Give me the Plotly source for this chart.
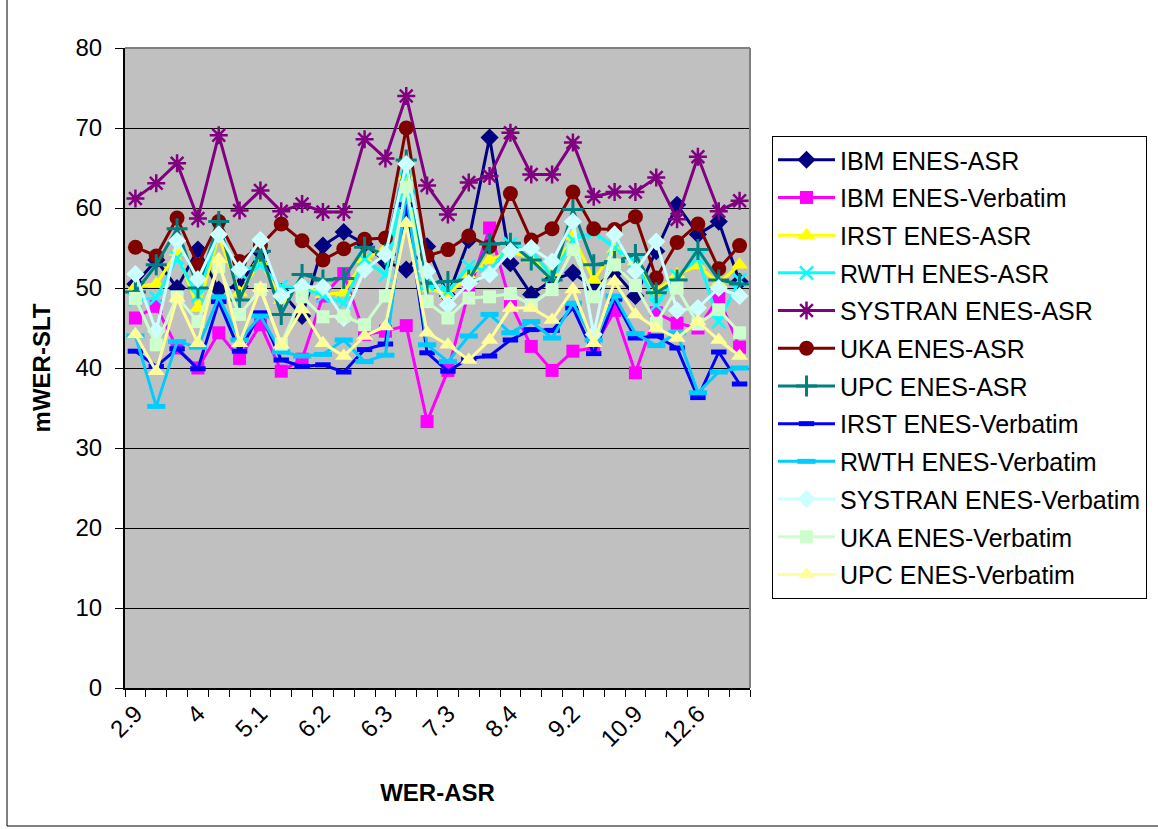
import plotly.graph_objects as go

tick_labels = ["2.9", "4", "5.1", "6.2", "6.3", "7.3", "8.4", "9.2", "10.9", "12.6"]
n_points = 30

ibm_asr = [50.5,53.5,50.0,54.8,49.8,50.2,54.5,49.5,46.5,55.3,57.0,55.5,53.3,52.3,55.2,49.0,56.0,68.8,53.1,49.2,51.0,51.9,50.0,52.0,49.0,54.6,60.4,56.7,58.3,50.8]
ibm_verb = [46.25,47.7,42.5,40.0,44.4,41.2,45.4,39.6,41.1,49.0,51.8,44.2,44.6,45.3,33.3,39.7,49.5,57.5,48.1,42.7,39.7,42.1,42.5,47.2,39.4,46.9,45.6,45.0,48.75,42.6]
irst_asr = [50.2,50.5,54.5,47.5,56.5,49.4,53.3,48.5,50.5,49.2,49.4,53.6,54.9,64.0,50.0,49.2,51.5,53.5,54.6,53.7,51.9,56.5,51.0,54.8,53.3,49.6,51.7,52.8,50.6,52.9]
rwth_asr = [48.5,48.75,53.75,49.0,57.0,52.0,52.9,50.2,50.0,49.0,48.1,53.6,51.6,65.0,50.5,49.6,52.7,52.1,55.5,54.6,51.5,56.0,57.0,55.0,53.3,47.9,51.5,53.75,45.8,51.0]
systran_asr = [61.2,63.1,65.6,58.7,69.1,59.7,62.2,59.6,60.5,59.5,59.5,68.6,66.2,74.0,62.8,59.2,63.2,64.0,69.4,64.2,64.2,68.2,61.4,62.0,62.0,63.8,58.6,66.4,59.6,60.9]
uka_asr = [55.1,54.0,58.75,52.9,58.3,53.3,55.3,58.0,55.9,53.5,54.9,56.1,56.25,70.0,54.0,54.8,56.5,55.2,61.8,56.0,57.4,62.0,57.4,57.3,58.9,51.25,55.7,58.0,52.4,55.3]
upc_asr = [49.5,52.9,57.4,50.0,58.3,48.5,54.6,46.7,51.7,51.0,51.2,55.1,54.2,66.0,50.6,50.8,51.0,55.5,55.6,53.5,51.0,59.8,52.9,53.3,54.2,49.4,51.0,54.8,51.0,50.5]
irst_verb = [42.1,40.2,42.4,39.9,48.3,42.1,46.9,41.0,40.2,40.4,39.5,42.3,43.0,60.4,41.9,39.6,41.2,41.5,43.5,44.8,44.7,47.5,41.8,48.6,43.75,44.0,42.5,36.3,42.0,38.0]
rwth_verb = [44.0,35.2,43.3,42.6,48.9,43.5,46.5,42.0,41.5,41.7,43.5,40.8,41.6,62.0,42.9,40.8,44.0,46.7,44.4,45.8,43.75,48.1,43.5,49.0,44.3,42.8,44.4,36.9,39.5,40.0]
systran_verb = [51.75,44.6,55.9,51.1,56.7,52.3,56.0,49.0,50.2,50.1,46.25,52.3,54.2,65.5,52.1,47.9,50.6,51.7,54.6,55.0,53.3,58.3,44.2,56.7,52.1,55.8,47.2,47.5,50.0,49.0]
uka_verb = [48.7,42.9,48.9,45.8,52.7,46.7,49.8,43.0,48.9,46.4,46.5,45.4,49.0,62.6,48.3,46.25,48.75,48.9,49.3,47.9,49.8,54.8,48.9,52.9,50.3,45.6,50.0,45.5,47.3,44.4]
upc_verb = [44.2,39.6,48.75,43.1,53.6,43.1,50.0,42.9,47.3,43.1,41.5,44.0,45.2,58.1,44.4,42.9,41.0,43.5,47.5,47.5,46.0,49.8,43.1,50.8,46.7,45.0,43.75,45.8,43.5,41.5]

x = list(range(n_points))
tickvals = list(range(0, n_points, 3))

series = [
    ("IBM ENES-ASR", ibm_asr, "#000080", "diamond", 14, 0),
    ("IBM ENES-Verbatim", ibm_verb, "#FF00FF", "square", 13, 0),
    ("IRST ENES-ASR", irst_asr, "#FFFF00", "triangle-up", 15, 0),
    ("RWTH ENES-ASR", rwth_asr, "#00FFFF", "x-thin", 13, 2.5),
    ("SYSTRAN ENES-ASR", systran_asr, "#800080", "asterisk", 15, 2.5),
    ("UKA ENES-ASR", uka_asr, "#800000", "circle", 15, 0),
    ("UPC ENES-ASR", upc_asr, "#008080", "cross-thin", 15, 3),
    ("IRST ENES-Verbatim", irst_verb, "#0000FF", "line-ew", 11, 5),
    ("RWTH ENES-Verbatim", rwth_verb, "#00CCFF", "line-ew", 13, 5),
    ("SYSTRAN ENES-Verbatim", systran_verb, "#CCFFFF", "diamond", 14, 0),
    ("UKA ENES-Verbatim", uka_verb, "#CCFFCC", "square", 13, 0),
    ("UPC ENES-Verbatim", upc_verb, "#FFFF99", "triangle-up", 15, 0),
]

fig = go.Figure()
for i, (name, vals, color, sym, size, lw) in enumerate(series):
    marker = dict(symbol=sym, size=size, color=color)
    if lw:
        marker["line"] = dict(color=color, width=lw)
    else:
        marker["line"] = dict(width=0)
    fig.add_trace(go.Scatter(
        x=x, y=vals, name=name, mode="lines+markers",
        line=dict(color=color, width=3),
        marker=marker, legendgroup=f"g{i:02d}",
    ))

W, H = 1158, 829
L, R, T, B = 125, 750, 48, 688
pw, ph = R - L, B - T

def px(v):
    return (v - L) / pw

def py(v):
    return (B - v) / ph

font = "Liberation Sans, Arial, sans-serif"

fig.update_layout(
    width=W, height=H,
    margin=dict(l=L, r=W - R, t=T, b=H - B, pad=0, autoexpand=False),
    paper_bgcolor="white",
    plot_bgcolor="#C0C0C0",
    font=dict(family=font, size=24, color="black"),
    showlegend=True,
    legend=dict(
        x=px(772), y=py(136), xanchor="left", yanchor="top",
        bgcolor="white", bordercolor="black", borderwidth=1,
        font=dict(family=font, size=25, color="black"),
        tracegroupgap=2.2, itemwidth=57, traceorder="grouped",
    ),
    xaxis=dict(
        range=[-0.5, n_points - 0.5],
        tickvals=tickvals, ticktext=tick_labels, tickangle=-45,
        ticks="", showgrid=False, zeroline=False,
        showline=True, linecolor="black", linewidth=2,
        tickfont=dict(family=font, size=24),
        ticklabelstandoff=0,
        minor=dict(tick0=-0.5, dtick=1, ticks="outside", ticklen=7,
                   tickcolor="black", tickwidth=1, showgrid=False),
        title=dict(text="<b>WER-ASR</b>", font=dict(family=font, size=24), standoff=33),
    ),
    yaxis=dict(
        range=[0, 80], dtick=10, ticks="outside", ticklen=8, tickcolor="black",
        showgrid=True, gridcolor="black", gridwidth=1, zeroline=False,
        showline=True, linecolor="black", linewidth=2,
        tickfont=dict(family=font, size=24),
        ticklabelstandoff=8,
        title=dict(text="<b>mWER-SLT</b>", font=dict(family=font, size=24), standoff=18),
    ),
    shapes=[
        dict(type="line", xref="paper", yref="paper", x0=0, x1=1, y0=1, y1=1,
             line=dict(color="#808080", width=2)),
        dict(type="line", xref="paper", yref="paper", x0=1, x1=1, y0=0, y1=1,
             line=dict(color="#808080", width=2)),
        dict(type="line", xref="paper", yref="paper", x0=px(7), x1=px(7), y0=py(0), y1=py(826),
             line=dict(color="black", width=1)),
        dict(type="line", xref="paper", yref="paper", x0=px(7), x1=px(1158), y0=py(826), y1=py(826),
             line=dict(color="black", width=1)),
    ],
)

fig.write_html("out.html")
